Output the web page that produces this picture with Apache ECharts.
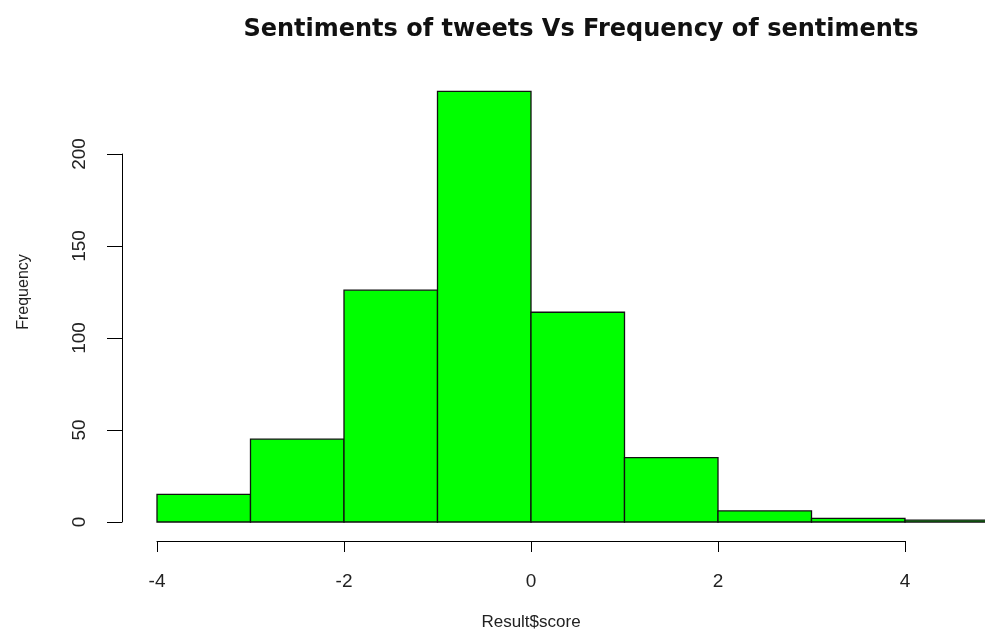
<!DOCTYPE html>
<html>
<head>
<meta charset="utf-8">
<script src="https://cdn.jsdelivr.net/npm/echarts@6/dist/echarts.min.js"></script>
<style>
  html, body { margin: 0; padding: 0; background: #fff; }
  #chart { width: 985px; height: 639px; }
</style>
</head>
<body>
<div id="chart"></div>
<script>
// histogram bins (left edges, width 1) and counts
const binStarts = [-4, -3, -2, -1, 0, 1, 2, 3, 4];
const binWidth = 1;
const counts = [15, 45, 126, 234, 114, 35, 6, 2, 1];

const xTicks = [-4, -2, 0, 2, 4];
const yTicks = [0, 50, 100, 150, 200];

const myChart = echarts.init(document.getElementById('chart'));

const font = 'Liberation Sans, Arial, sans-serif';

const option = {
    animation: false,
    backgroundColor: '#fff',
    title: {
        text: 'Sentiments of tweets Vs Frequency of sentiments',
        left: 576,
        top: 13,
        textAlign: 'center',
        textStyle: { fontFamily: 'DejaVu Sans', fontSize: 24, fontWeight: 'bold', color: '#111' }
    },
    grid: { left: 157, right: 80, top: 154, bottom: 117 },
    xAxis: {
        type: 'value',
        min: xTicks[0],
        max: xTicks[xTicks.length - 1],
        interval: 2,
        offset: 19,
        splitLine: { show: false },
        axisLine: { onZero: false, lineStyle: { color: '#000', width: 1 } },
        axisTick: { length: 11, lineStyle: { color: '#000' } },
        axisLabel: { margin: 31, fontFamily: font, fontSize: 19, color: '#222' },
        name: 'Result$score',
        nameLocation: 'middle',
        nameGap: 73,
        nameTextStyle: { fontFamily: font, fontSize: 17, color: '#222' }
    },
    yAxis: {
        type: 'value',
        min: yTicks[0],
        max: yTicks[yTicks.length - 1],
        interval: 50,
        offset: 35,
        splitLine: { show: false },
        axisLine: { show: true, onZero: false, lineStyle: { color: '#000', width: 1 } },
        axisTick: { show: true, length: 15, lineStyle: { color: '#000' } },
        axisLabel: { margin: 33, rotate: 90, fontFamily: font, fontSize: 19, color: '#222' }
    },
    graphic: [{
        type: 'text',
        x: 24,
        y: 292,
        rotation: Math.PI / 2,
        style: {
            text: 'Frequency',
            fontFamily: font,
            fontSize: 16,
            fill: '#222',
            align: 'center',
            verticalAlign: 'middle'
        }
    }],
    series: [{
        type: 'custom',
        clip: false,
        data: binStarts.map((s, i) => [s, s + binWidth, counts[i]]),
        renderItem: function (params, api) {
            const p0 = api.coord([api.value(0), api.value(2)]);
            const p1 = api.coord([api.value(1), 0]);
            return {
                type: 'rect',
                shape: { x: p0[0], y: p0[1], width: p1[0] - p0[0], height: p1[1] - p0[1] },
                style: { fill: '#00ff00', stroke: '#111', lineWidth: 1.3 }
            };
        }
    }]
};

myChart.setOption(option);
</script>
</body>
</html>
